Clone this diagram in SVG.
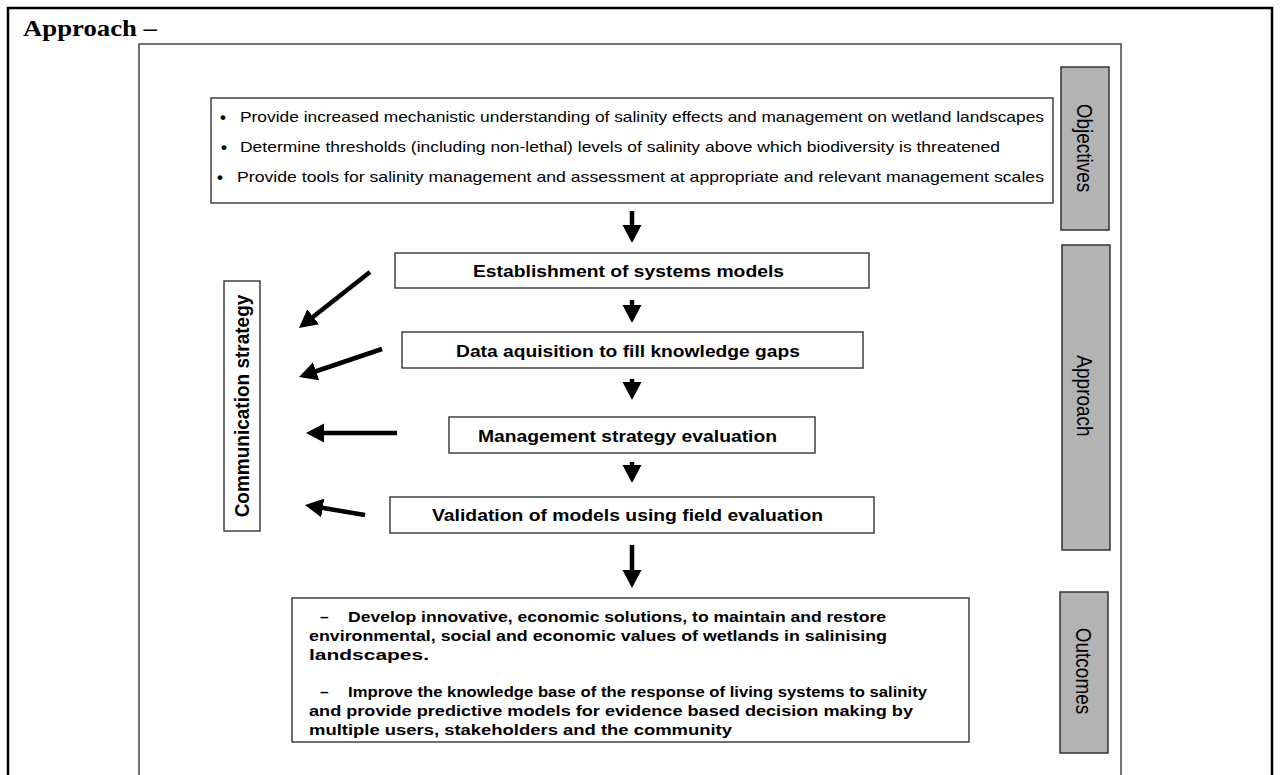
<svg xmlns="http://www.w3.org/2000/svg" width="1280" height="775" viewBox="0 0 1280 775">
<style>
.frame{fill:none;stroke:#000;stroke-width:2.5}
.inner{fill:none;stroke:#444;stroke-width:1.5}
.box{fill:#fff;stroke:#333;stroke-width:1.4}
.side{fill:#b3b3b3;stroke:#333;stroke-width:1.5}
.t{font-family:"Liberation Sans",Arial,sans-serif;fill:#000}
.reg{font-size:14.5px}
.bul{font-size:17px;font-weight:bold}
.bold{font-weight:bold}
.lbl{font-size:17px;font-weight:bold}
.out{font-size:15.5px;font-weight:bold}
.vert{font-size:19px;text-anchor:middle;dominant-baseline:central}
.title{font-family:"Liberation Serif","Times New Roman",serif;font-size:23px;font-weight:bold;fill:#000}
.arr{stroke:#000;stroke-width:4.5;fill:none;marker-end:url(#ah)}
</style>
<defs>
<marker id="ah" markerUnits="userSpaceOnUse" markerWidth="20" markerHeight="20" refX="4" refY="9.5" orient="auto">
<path d="M0,0 L18,9.5 L0,19 Z" fill="#000"/>
</marker>
</defs>
<rect width="1280" height="775" fill="#fff"/>
<path class="frame" d="M8,776 V8 H1272 V776"/>
<text class="title" x="23" y="36" textLength="134" lengthAdjust="spacingAndGlyphs">Approach –</text>
<path class="inner" d="M139,776 V44 H1121 V776"/>

<g id="objectives-label">
<rect class="side" x="1061" y="67" width="48" height="163"/>
<text class="t vert" transform="translate(1085,148) scale(1.15,1) rotate(90)">Objectives</text>
</g>
<g id="approach-label">
<rect class="side" x="1062" y="245" width="48" height="305"/>
<text class="t vert" transform="translate(1085,396) scale(1.15,1) rotate(90)">Approach</text>
</g>
<g id="outcomes-label">
<rect class="side" x="1060" y="592" width="48" height="161"/>
<text class="t vert" transform="translate(1084,671) scale(1.15,1) rotate(90)">Outcomes</text>
</g>

<g id="objectives">
<rect class="box" x="211" y="98" width="842" height="105"/>
<text class="t bul" x="220" y="123">•</text>
<text class="t reg" x="240" y="122" textLength="804" lengthAdjust="spacingAndGlyphs">Provide increased mechanistic understanding of salinity effects and management on wetland landscapes</text>
<text class="t bul" x="221" y="153">•</text>
<text class="t reg" x="240" y="152" textLength="760" lengthAdjust="spacingAndGlyphs">Determine thresholds (including non-lethal) levels of salinity above which biodiversity is threatened</text>
<text class="t bul" x="217" y="183">•</text>
<text class="t reg" x="237" y="182" textLength="807" lengthAdjust="spacingAndGlyphs">Provide tools for salinity management and assessment at appropriate and relevant management scales</text>
</g>

<g id="systems-models">
<rect class="box" x="395" y="253" width="474" height="35"/>
<text class="t lbl" x="473" y="277" textLength="311" lengthAdjust="spacingAndGlyphs">Establishment of systems models</text>
</g>
<g id="data-acquisition">
<rect class="box" x="402" y="332" width="461" height="36"/>
<text class="t lbl" x="456" y="357" textLength="344" lengthAdjust="spacingAndGlyphs">Data aquisition to fill knowledge gaps</text>
</g>
<g id="management-strategy">
<rect class="box" x="449" y="417" width="366" height="36"/>
<text class="t lbl" x="478" y="442" textLength="299" lengthAdjust="spacingAndGlyphs">Management strategy evaluation</text>
</g>
<g id="validation">
<rect class="box" x="390" y="497" width="484" height="36"/>
<text class="t lbl" x="432" y="521" textLength="391" lengthAdjust="spacingAndGlyphs">Validation of models using field evaluation</text>
</g>

<g id="communication-strategy">
<rect class="box" x="224" y="281" width="36" height="250"/>
<text class="t vert bold" transform="translate(242,406) scale(1.1,1) rotate(-90)">Communication strategy</text>
</g>

<g id="outcomes">
<rect class="box" x="292" y="598" width="677" height="144"/>
<text class="t out" x="320" y="622">–</text>
<text class="t out" x="348" y="622" textLength="538" lengthAdjust="spacingAndGlyphs">Develop innovative, economic solutions, to maintain and restore</text>
<text class="t out" x="309" y="641" textLength="578" lengthAdjust="spacingAndGlyphs">environmental, social and economic values of wetlands in salinising</text>
<text class="t out" x="309" y="660" textLength="120" lengthAdjust="spacingAndGlyphs">landscapes.</text>
<text class="t out" x="320" y="697">–</text>
<text class="t out" x="348" y="697" textLength="579" lengthAdjust="spacingAndGlyphs">Improve the knowledge base of the response of living systems to salinity</text>
<text class="t out" x="309" y="716" textLength="604" lengthAdjust="spacingAndGlyphs">and provide predictive models for evidence based decision making by</text>
<text class="t out" x="309" y="735" textLength="423" lengthAdjust="spacingAndGlyphs">multiple users, stakeholders and the community</text>
</g>

<g id="connectors">
<line class="arr" x1="632" y1="211" x2="632" y2="229"/>
<line class="arr" x1="632" y1="300" x2="632" y2="309"/>
<line class="arr" x1="632" y1="379" x2="632" y2="386"/>
<line class="arr" x1="632" y1="462" x2="632" y2="469"/>
<line class="arr" x1="632" y1="545" x2="632" y2="574"/>
<line class="arr" x1="370" y1="272" x2="310" y2="319.3"/>
<line class="arr" x1="382" y1="349" x2="312.3" y2="372.5"/>
<line class="arr" x1="397" y1="433" x2="320" y2="433"/>
<line class="arr" x1="365" y1="515" x2="318.8" y2="507.3"/>
</g>
</svg>
